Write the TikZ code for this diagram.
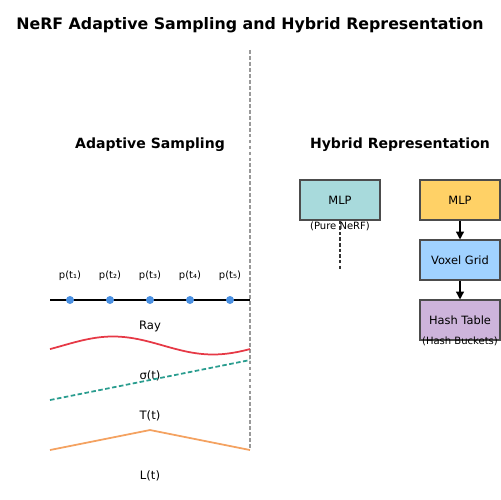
\documentclass[tikz,border=0pt]{standalone}
\usepackage{fontspec}
\setmainfont{DejaVu Sans}
\usepackage{tikz}
\usetikzlibrary{calc,arrows.meta,positioning}
\definecolor{rayred}{HTML}{E63946}
\definecolor{sigteal}{HTML}{2A9D8F}
\definecolor{lorange}{HTML}{F4A261}
\definecolor{dotblue}{HTML}{4A90E2}
\definecolor{mlpteal}{HTML}{A8DADC}
\definecolor{mlpyellow}{HTML}{FFD166}
\definecolor{voxblue}{HTML}{A0D2FF}
\definecolor{hashpurple}{HTML}{CDB4DB}
\begin{document}
\begin{tikzpicture}[x=0.02cm,y=-0.02cm]
			\tikzset{
			    blockbox/.style={draw=black!70,semithick,minimum width=1.6cm,minimum height=0.8cm,inner sep=0pt,font=\fontsize{6.5}{7}\selectfont},
			    headtext/.style={font=\fontsize{8}{9}\selectfont\bfseries},
			    lbl/.style={font=\fontsize{6.6}{7}\selectfont},
			    smalllbl/.style={font=\fontsize{5.7}{6}\selectfont,inner sep=0pt},
			    sample/.style={circle,fill=dotblue,inner sep=0pt,minimum size=0.16cm},
			    curve/.style={line width=1pt}}
			\useasboundingbox (0,0) rectangle (500,500);
			\node[font=\fontsize{9}{10}\selectfont\bfseries] (title) at (250,25) {NeRF Adaptive Sampling and Hybrid Representation};
			% divider
			\coordinate (divtop) at (250,50);
			\coordinate (divbot) at (250,450);
			\draw[black!40,semithick,dash pattern=on 2.2pt off 1.2pt] (divtop) -- (divbot);
			\node[headtext] (adapt) at (150,145) {Adaptive Sampling};
			\node[headtext] (hybrid) at (400,145) {Hybrid Representation};
			% left: ray with samples
			\coordinate (raystart) at (50,300);
			\coordinate (rayend) at (250,300);
			\draw[curve] (raystart) -- (rayend);
			\foreach \i/\s in {1/₁,2/₂,3/₃,4/₄,5/₅}{
			    \node[sample] (p\i) at (30+40*\i,300) {};
			    \node[smalllbl] (pl\i) at (30+40*\i,276) {p(t\s)};
			}
			\node[lbl] (raylbl) at (150,326) {Ray};
			\draw[rayred,curve,domain=50:250,samples=60,smooth] plot (\x,{345.5-9*sin(1.8*(\x-63))});
			\node[lbl] (siglbl) at (150,376) {σ(t)};
			\coordinate (sigstart) at (50,400);
			\coordinate (sigend) at (250,360);
			\draw[sigteal,curve,dash pattern=on 2.6pt off 1.4pt] (sigstart) -- (sigend);
			\node[lbl] (tlbl) at (150,416) {T(t)};
			\coordinate (la) at (50,450);
			\coordinate (lb) at (150,430);
			\coordinate (lc) at (250,450);
			\draw[lorange,curve] (la) -- (lb) -- (lc);
			\node[lbl] (llbl) at (150,476) {L(t)};
			% right: pure nerf vs hybrid
			\node[blockbox,fill=mlpteal] (mlpa) at (340,200) {MLP};
			\node[smalllbl] (pure) at (340,226) {(Pure NeRF)};
			\coordinate (pureend) at (340,270);
			\draw[thick,black!80,dash pattern=on 2pt off 1.2pt] (mlpa.south) -- (pureend);
			\node[blockbox,fill=mlpyellow] (mlpb) at (460,200) {MLP};
			\node[blockbox,fill=voxblue] (voxel) at (460,260) {Voxel Grid};
			\node[blockbox,fill=hashpurple] (hash) at (460,320) {Hash Table};
			\node[smalllbl] (buckets) at (460,341) {(Hash Buckets)};
			\draw[-{Triangle[length=4.5pt,width=4.5pt]},thick] (mlpb) -- (voxel);
			\draw[-{Triangle[length=4.5pt,width=4.5pt]},thick] (voxel) -- (hash);
\end{tikzpicture}
\end{document}
